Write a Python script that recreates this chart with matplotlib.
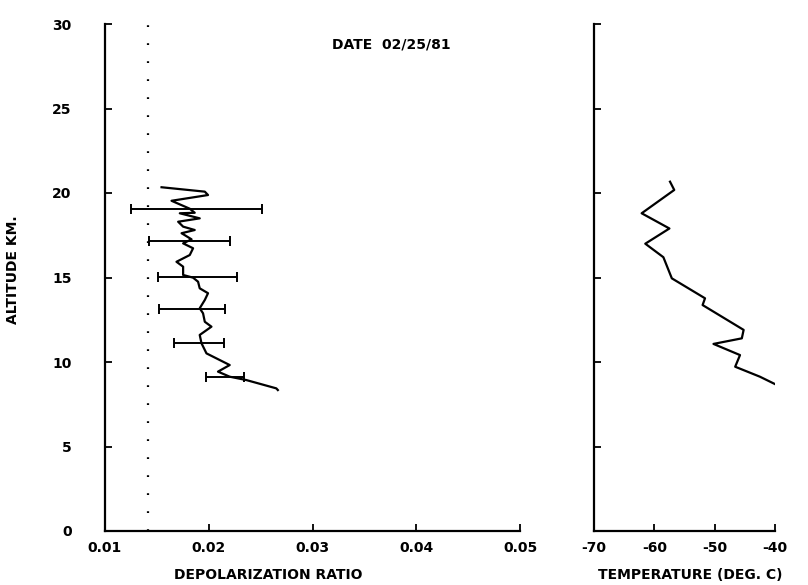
import numpy as np
import matplotlib
matplotlib.use('Agg')
import matplotlib.pyplot as plt

# Depolarization profile (ratio, altitude km)
dep_ratio = [0.01545, 0.01962, 0.01993, 0.01641, 0.01817, 0.01865, 0.01721, 0.01913,
             0.01705, 0.01753, 0.01865, 0.01738, 0.01834, 0.01753, 0.01849, 0.01817,
             0.01689, 0.01753, 0.01753, 0.01849, 0.01897, 0.01913, 0.01993, 0.01962,
             0.01913, 0.01945, 0.01962, 0.02026, 0.01913, 0.01930, 0.01978, 0.02202,
             0.02089, 0.02202, 0.02363, 0.02651, 0.02666]
dep_alt = [20.34, 20.08, 19.88, 19.54, 19.07, 18.83, 18.80, 18.50,
           18.30, 18.01, 17.81, 17.62, 17.26, 17.02, 16.73, 16.33,
           15.93, 15.64, 15.15, 14.99, 14.75, 14.36, 14.07, 13.67,
           13.18, 12.88, 12.38, 12.09, 11.60, 11.11, 10.51, 9.82,
           9.43, 9.13, 8.93, 8.44, 8.34]

# Error bars (altitude, low, high)
err_alt = [19.03, 17.16, 15.01, 13.12, 11.14, 9.13]
err_lo = [0.01247, 0.01423, 0.01507, 0.01519, 0.01663, 0.01978]
err_hi = [0.02513, 0.02209, 0.02269, 0.02157, 0.02147, 0.02337]

# Reference (molecular) depolarization level
ref_ratio = 0.0141

# Temperature profile (deg C, altitude km)
temp = [-57.4, -56.7, -62.1, -57.5, -61.5, -58.5, -57.1, -51.6, -52.0,
        -45.2, -45.5, -50.2, -45.8, -46.6, -42.5, -39.7]
temp_alt = [20.67, 20.18, 18.8, 17.9, 17.0, 16.2, 14.95, 13.77, 13.37,
            11.9, 11.4, 11.07, 10.41, 9.72, 9.13, 8.64]

alt_ticks = [0, 5, 10, 15, 20, 25, 30]
dep_ticks = [0.01, 0.02, 0.03, 0.04, 0.05]
dep_labels = ['0.01', '0.02', '0.03', '0.04', '0.05']
temp_ticks = [-70, -60, -50, -40]

plt.rcParams['font.family'] = ['DejaVu Sans']
plt.rcParams['font.weight'] = 'bold'
plt.rcParams['axes.labelweight'] = 'bold'
plt.rcParams['axes.unicode_minus'] = False
fs = 10

fig = plt.figure(figsize=(8.08, 5.85), dpi=100)
ax1 = fig.add_axes([105 / 808, 54 / 585, 415 / 808, 507 / 585])
ax2 = fig.add_axes([594 / 808, 54 / 585, 181 / 808, 507 / 585])

for ax in (ax1, ax2):
    for s in ('top', 'right'):
        ax.spines[s].set_visible(False)
    for s in ('left', 'bottom'):
        ax.spines[s].set_linewidth(1.6)
    ax.set_ylim(0, 30)
    ax.set_yticks(alt_ticks)
    ax.tick_params(direction='in', length=5, width=1.3, labelsize=fs)

# left panel
ax1.plot(dep_ratio, dep_alt, color='black', lw=1.6)
err_mid = (np.array(err_lo) + np.array(err_hi)) / 2
err_half = (np.array(err_hi) - np.array(err_lo)) / 2
ax1.errorbar(err_mid, err_alt, xerr=err_half, fmt='none', ecolor='black',
             elinewidth=1.4, capsize=3.5, capthick=1.4)
ax1.axvline(ref_ratio, color='black', lw=1.6, linestyle=(0, (0.8, 7.3)))
ax1.set_xlim(0.01, 0.05)
ax1.set_xticks(dep_ticks)
ax1.set_xticklabels(dep_labels)
ax1.tick_params(axis='y', pad=24)
ax1.tick_params(axis='x', pad=7)
ax1.set_xlabel('DEPOLARIZATION RATIO', fontsize=fs)
ax1.xaxis.set_label_coords(0.393, -0.072)
ax1.set_ylabel('ALTITUDE KM.', fontsize=fs)
ax1.yaxis.set_label_coords(-0.205, 0.515)
ax1.text(0.0319, 28.76, 'DATE  02/25/81', fontsize=fs, va='center')

# right panel
ax2.plot(temp, temp_alt, color='black', lw=1.6)
ax2.set_xlim(-70, -40)
ax2.set_xticks(temp_ticks)
ax2.tick_params(axis='x', pad=7)
ax2.tick_params(axis='y', labelleft=False)
ax2.set_xlabel('TEMPERATURE (DEG. C)', fontsize=fs)
ax2.xaxis.set_label_coords(0.53, -0.072)

fig.savefig('out.png', dpi=100)
